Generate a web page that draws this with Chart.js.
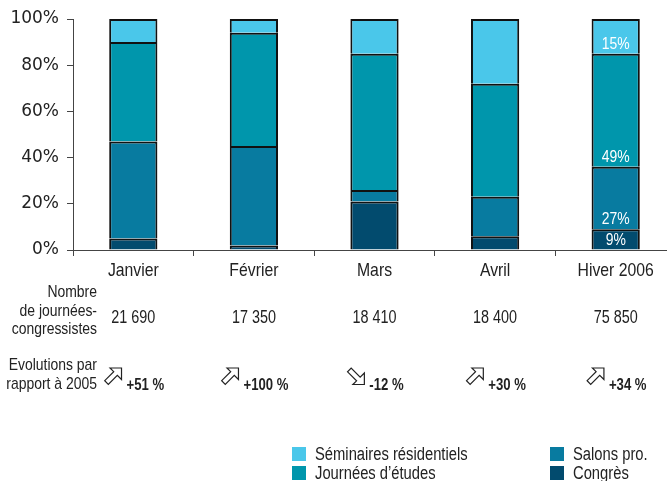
<!DOCTYPE html>
<html>
<head>
<meta charset="utf-8">
<script src="https://cdn.jsdelivr.net/npm/chart.js@4/dist/chart.umd.min.js"></script>
<style>
html, body { margin: 0; padding: 0; background: #fff; overflow: hidden; width: 667px; height: 481px; }
#wrap { position: relative; width: 678px; height: 481px; }
</style>
</head>
<body>
<div id="wrap"><canvas id="c" width="678" height="481"></canvas></div>
<script>
// ---- data ----
const categories = ['Janvier', 'Février', 'Mars', 'Avril', 'Hiver 2006'];
const congres    = [5, 2, 21, 6, 9];
const salons     = [42, 43, 5, 17, 27];
const journees   = [43, 49, 59, 49, 49];
const seminaires = [10, 6, 15, 28, 15];
const journeesCongressistes = ['21 690', '17 350', '18 410', '18 400', '75 850'];
const evolutions2005 = [51, 100, -12, 30, 34];
const yTicks = [0, 20, 40, 60, 80, 100];

const SANS = "'Liberation Sans', Arial, sans-serif";
const TXT = '#222222';

const colors = {
  seminaires: '#4AC7EA',
  journees: '#0096AC',
  salons: '#087BA0',
  congres: '#024B6E'
};

// condensed text: real text, horizontally compressed
function nFont(size, bold) { return (bold ? 'bold ' : '') + size + 'px ' + SANS; }
function nWidth(ctx, t, size, bold, sx) {
  ctx.save(); ctx.font = nFont(size, bold); const w = ctx.measureText(t).width * sx; ctx.restore(); return w;
}
function nText(ctx, t, x, y, size, align, bold, sx) {
  ctx.save();
  ctx.font = nFont(size, bold);
  ctx.textAlign = align;
  ctx.textBaseline = 'alphabetic';
  ctx.translate(x, y);
  ctx.scale(sx, 1);
  ctx.fillText(t, 0, 0);
  ctx.restore();
}
function hollowArrow(ctx, x, y, down) {
  // box about 19x17 with top-left at (x, y)
  const pts = [[19, 0], [7.5, 0], [11.2, 3.7], [2.2, 12.7], [5.8, 16.3], [14.8, 7.3], [19, 11.5]];
  ctx.save();
  ctx.translate(x, y);
  if (down) { ctx.translate(0, 16.5); ctx.scale(1, -1); }
  ctx.beginPath();
  pts.forEach((p, i) => i ? ctx.lineTo(p[0], p[1]) : ctx.moveTo(p[0], p[1]));
  ctx.closePath();
  ctx.fillStyle = '#fff';
  ctx.fill();
  ctx.lineWidth = 1.2;
  ctx.lineJoin = 'miter';
  ctx.strokeStyle = '#222';
  ctx.stroke();
  ctx.restore();
}

const bottomText = {
  id: 'bottomText',
  afterDatasetsDraw(chart) {
    const ctx = chart.ctx;
    const last = categories.length - 1;
    ctx.save();
    ctx.fillStyle = '#ffffff';
    chart.data.datasets.forEach((ds, i) => {
      const el = chart.getDatasetMeta(i).data[last];
      nText(ctx, ds.data[last] + '%', el.x, el.base - 5, 17, 'center', false, 0.82);
    });
    ctx.restore();
  },
  afterDraw(chart) {
    const ctx = chart.ctx;
    const xs = chart.scales.x;
    ctx.save();
    ctx.fillStyle = TXT;
    // category labels
    categories.forEach((c, i) => nText(ctx, c, xs.getPixelForValue(i), 276, 19, 'center', false, 0.83));
    // row headers
    nText(ctx, 'Nombre', 97, 297, 17, 'right', false, 0.82);
    nText(ctx, 'de journées-', 97, 315.5, 17, 'right', false, 0.82);
    nText(ctx, 'congressistes', 97, 334, 17, 'right', false, 0.82);
    nText(ctx, 'Evolutions par', 97, 370, 17, 'right', false, 0.82);
    nText(ctx, 'rapport à 2005', 97, 388.5, 17, 'right', false, 0.82);
    // numbers
    journeesCongressistes.forEach((t, i) => nText(ctx, t, xs.getPixelForValue(i), 323, 18, 'center', false, 0.8));
    // evolutions
    evolutions2005.forEach((v, i) => {
      const cx = xs.getPixelForValue(i);
      const txt = (v >= 0 ? '+' : '') + v + ' %';
      const aw = 19, gap = 5;
      const tw = nWidth(ctx, txt, 16, true, 0.82);
      const x0 = cx - (aw + gap + tw) / 2;
      hollowArrow(ctx, x0, 368, v < 0);
      ctx.fillStyle = TXT;
      nText(ctx, txt, x0 + aw + gap, 390, 16, 'left', true, 0.82);
    });
    // legend (two columns)
    const ds = chart.data.datasets;
    const order = [3, 2, 1, 0]; // seminaires, journees, salons, congres
    const pos = [[292, 447], [292, 466], [550, 447], [550, 466]];
    order.forEach((di, k) => {
      const [x, y] = pos[k];
      ctx.fillStyle = ds[di].backgroundColor;
      ctx.fillRect(x, y, 14, 14);
      ctx.fillStyle = TXT;
      nText(ctx, ds[di].label, x + 23, y + 13, 18, 'left', false, 0.82);
    });
    ctx.restore();
  }
};

new Chart(document.getElementById('c'), {
  type: 'bar',
  data: {
    labels: categories,
    datasets: [
      { label: 'Congrès', data: congres, backgroundColor: colors.congres },
      { label: 'Salons pro.', data: salons, backgroundColor: colors.salons },
      { label: 'Journées d\u2019études', data: journees, backgroundColor: colors.journees },
      { label: 'Séminaires résidentiels', data: seminaires, backgroundColor: colors.seminaires }
    ].map(d => Object.assign(d, {
      borderColor: '#111111',
      borderWidth: 2,
      borderSkipped: 'bottom',
      barPercentage: 0.4,
      categoryPercentage: 1
    }))
  },
  options: {
    responsive: false,
    animation: false,
    devicePixelRatio: 1,
    layout: { padding: { top: 19, right: 2, left: 0, bottom: 0 } },
    plugins: { legend: { display: false }, tooltip: { enabled: false } },
    scales: {
      x: {
        stacked: true,
        offset: true,
        grid: { offset: true, drawOnChartArea: false, drawTicks: true, tickLength: 6, color: '#444' },
        border: { display: true, color: '#444', width: 1 },
        ticks: { display: false },
        afterFit(s) { s.height = 231; }
      },
      y: {
        stacked: true,
        min: 0, max: 100,
        afterBuildTicks(s) { s.ticks = yTicks.map(v => ({ value: v })); },
        grid: { drawOnChartArea: false, drawTicks: true, tickLength: 6, color: '#444' },
        border: { display: true, color: '#444', width: 1 },
        ticks: { color: TXT, font: { family: 'DejaVu Sans', size: 17 }, padding: 8, callback: v => v + '%' },
        afterFit(s) { s.width = 73; }
      }
    }
  },
  plugins: [bottomText]
});
</script>
</body>
</html>
